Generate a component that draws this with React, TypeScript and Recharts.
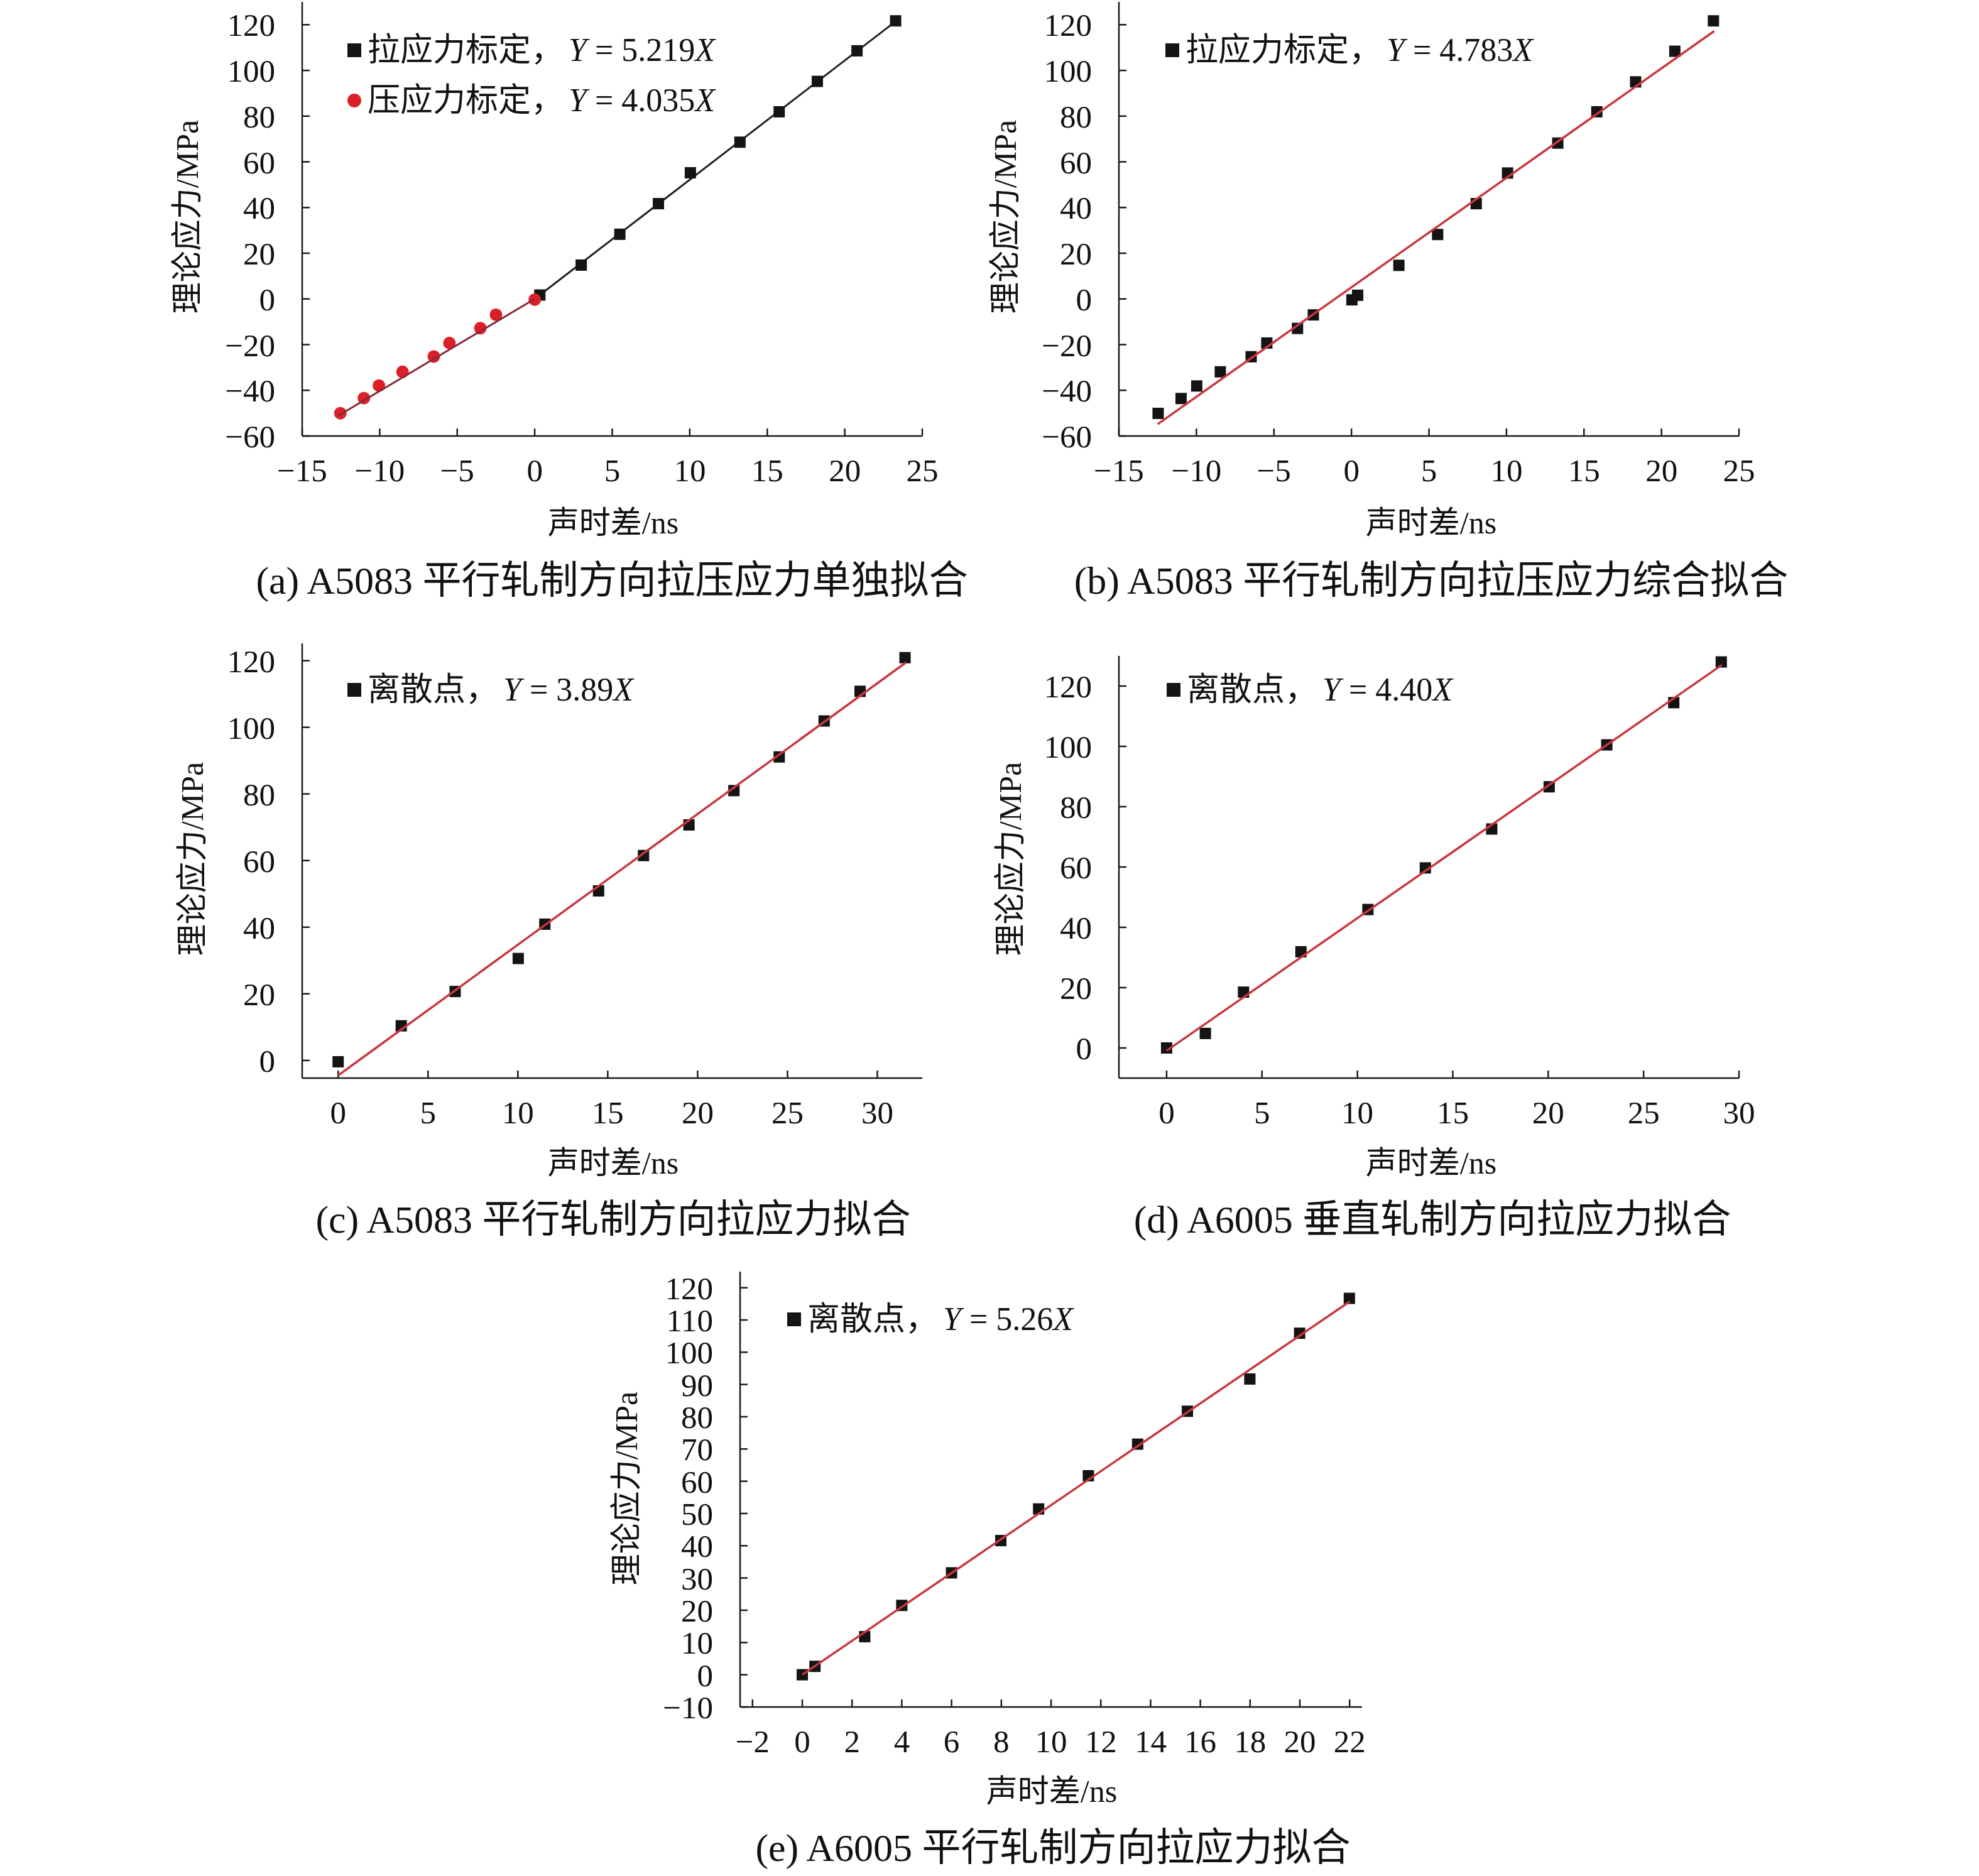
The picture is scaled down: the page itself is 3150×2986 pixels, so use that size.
import React from 'react';
import { ScatterChart, Scatter, XAxis, YAxis } from 'recharts';

// (a) A5083 parallel, separate fits
const tensionA = [
  { x: 0.33, y: 1.7 }, { x: 3.0, y: 14.8 }, { x: 5.49, y: 28.3 }, { x: 7.98, y: 41.7 },
  { x: 10.04, y: 55.2 }, { x: 13.24, y: 68.6 }, { x: 15.77, y: 81.9 }, { x: 18.23, y: 95.2 },
  { x: 20.79, y: 108.6 }, { x: 23.28, y: 121.7 },
];
const compressionA = [
  { x: -12.54, y: -50.0 }, { x: -11.02, y: -43.4 }, { x: -10.05, y: -37.9 }, { x: -8.53, y: -31.9 },
  { x: -6.51, y: -25.2 }, { x: -5.5, y: -19.3 }, { x: -3.51, y: -12.8 }, { x: -2.5, y: -6.9 },
  { x: 0.0, y: -0.3 },
];
const tensionFitA = [{ x: 0, y: 0 }, { x: 23.5, y: 122.6 }];
const compressionFitA = [{ x: -12.7, y: -51.2 }, { x: 0, y: 0 }];

// (b) A5083 parallel, combined fit
const pointsB = [
  { x: -12.47, y: -50.1 }, { x: -10.99, y: -43.6 }, { x: -9.98, y: -38.1 }, { x: -8.46, y: -31.9 },
  { x: -6.47, y: -25.3 }, { x: -5.46, y: -19.3 }, { x: -3.48, y: -12.9 }, { x: -2.46, y: -7.0 },
  { x: 0.03, y: -0.4 }, { x: 0.4, y: 1.6 }, { x: 3.06, y: 14.7 }, { x: 5.56, y: 28.2 },
  { x: 8.05, y: 41.7 }, { x: 10.07, y: 55.1 }, { x: 13.31, y: 68.2 }, { x: 15.83, y: 81.9 },
  { x: 18.33, y: 95.0 }, { x: 20.86, y: 108.4 }, { x: 23.35, y: 121.7 },
];
const fitB = [{ x: -12.5, y: -54.8 }, { x: 23.4, y: 117.2 }];

// (c) A5083 parallel, tension
const pointsC = [
  { x: 0, y: -0.4 }, { x: 3.51, y: 10.4 }, { x: 6.51, y: 20.7 }, { x: 10.02, y: 30.6 },
  { x: 11.5, y: 40.9 }, { x: 14.49, y: 50.9 }, { x: 16.99, y: 61.5 }, { x: 19.52, y: 70.7 },
  { x: 22.02, y: 81.0 }, { x: 24.54, y: 91.1 }, { x: 27.04, y: 101.9 }, { x: 29.04, y: 110.8 },
  { x: 31.54, y: 120.9 },
];
const fitC = [{ x: 0, y: -4.5 }, { x: 31.6, y: 119.5 }];

// (d) A6005 perpendicular, tension
const pointsD = [
  { x: 0, y: 0 }, { x: 2.03, y: 4.8 }, { x: 4.03, y: 18.5 }, { x: 7.04, y: 31.9 },
  { x: 10.55, y: 45.9 }, { x: 13.56, y: 59.7 }, { x: 17.04, y: 72.6 }, { x: 20.05, y: 86.6 },
  { x: 23.07, y: 100.5 }, { x: 26.58, y: 114.5 }, { x: 29.07, y: 128.0 },
];
const fitD = [{ x: 0, y: -0.9 }, { x: 29.1, y: 127.0 }];

// (e) A6005 parallel, tension
const pointsE = [
  { x: 0, y: 0 }, { x: 0.51, y: 2.6 }, { x: 2.51, y: 11.8 }, { x: 4.0, y: 21.5 },
  { x: 6.0, y: 31.6 }, { x: 7.98, y: 41.6 }, { x: 9.5, y: 51.4 }, { x: 11.5, y: 61.7 },
  { x: 13.48, y: 71.5 }, { x: 15.48, y: 81.7 }, { x: 17.99, y: 91.7 }, { x: 19.99, y: 105.9 },
  { x: 21.99, y: 116.7 },
];
const fitE = [{ x: 0, y: 0 }, { x: 22, y: 115.7 }];

const xTicksAB = [-15, -10, -5, 0, 5, 10, 15, 20, 25];
const yTicksAB = [-60, -40, -20, 0, 20, 40, 60, 80, 100, 120];
const xTicksC = [0, 5, 10, 15, 20, 25, 30];
const yTicksCD = [0, 20, 40, 60, 80, 100, 120];
const xTicksD = [0, 5, 10, 15, 20, 25, 30];
const xTicksE = [-2, 0, 2, 4, 6, 8, 10, 12, 14, 16, 18, 20, 22];
const yTicksE = [-10, 0, 10, 20, 30, 40, 50, 60, 70, 80, 90, 100, 110, 120];

const xTitle = '声时差/ns';
const yTitle = '理论应力/MPa';

const FONT = '"Liberation Serif", "Times New Roman", "Noto Sans CJK SC", serif';
const INK = '#141414';
const RED_LINE = '#c9363f';
const DARK_RED_LINE = '#86283a';
const RED_DOT = '#dc2028';

const fmt = (v: number) => String(v).replace('-', '\u2212');

const squareShape = (p: any) => (
  <rect x={p.cx - 9} y={p.cy - 9} width={18} height={18} fill={INK} />
);
const circleShape = (p: any) => <circle cx={p.cx} cy={p.cy} r={10} fill={RED_DOT} />;
const noShape = () => <g />;

type Rect = { left: number; top: number; right: number; bottom: number };

const YW = 200;
const XH = 130;
const MT = 20;
const MR = 40;

function Plot({ rect, xDomain, yDomain, xTicks, yTicks, children }: {
  rect: Rect; xDomain: [number, number]; yDomain: [number, number];
  xTicks: number[]; yTicks: number[]; children: React.ReactNode;
}) {
  const w = rect.right - rect.left;
  const h = rect.bottom - rect.top;
  const axisLine = { stroke: '#1a1a1a', strokeWidth: 2.5 };
  const tickLine = { stroke: '#1a1a1a', strokeWidth: 2.5 };
  const tick = { fontSize: 51, fill: '#111', fontFamily: FONT };
  return (
    <div style={{ position: 'absolute', left: rect.left - YW, top: rect.top - MT }}>
      <ScatterChart width={YW + w + MR} height={MT + h + XH} margin={{ top: MT, right: MR, bottom: 0, left: 0 }}>
        <XAxis type="number" dataKey="x" domain={xDomain} ticks={xTicks} interval={0} allowDataOverflow
          height={XH} tickSize={-12} tickMargin={48} axisLine={axisLine} tickLine={tickLine}
          tick={tick} tickFormatter={fmt} />
        <YAxis type="number" dataKey="y" domain={yDomain} ticks={yTicks} interval={0} allowDataOverflow
          width={YW} tickSize={-12} tickMargin={55} axisLine={axisLine} tickLine={tickLine}
          tick={tick} tickFormatter={fmt} />
        {children}
      </ScatterChart>
    </div>
  );
}

const txt: React.CSSProperties = {
  position: 'absolute', fontFamily: FONT, color: '#111', whiteSpace: 'nowrap', lineHeight: 1,
};

function Centered({ x, y, size, rotate, children }: { x: number; y: number; size: number; rotate?: boolean; children: React.ReactNode }) {
  return (
    <div style={{ ...txt, left: x, top: y, fontSize: size,
      transform: `translate(-50%, -50%)${rotate ? ' rotate(-90deg)' : ''}` }}>
      {children}
    </div>
  );
}

function LegendRow({ x, y, marker, label, eq }: { x: number; y: number; marker: 'square' | 'circle'; label: string; eq: string }) {
  return (
    <div style={{ ...txt, left: x - 11, top: y, fontSize: 52, transform: 'translateY(-50%)', display: 'flex', alignItems: 'center' }}>
      {marker === 'square'
        ? <span style={{ display: 'inline-block', width: 22, height: 22, background: INK, marginRight: 10 }} />
        : <span style={{ display: 'inline-block', width: 22, height: 22, borderRadius: 11, background: RED_DOT, marginRight: 10 }} />}
      <span>{label}，</span>
      <span style={{ marginLeft: 8 }}><i>Y</i> = {eq}<i>X</i></span>
    </div>
  );
}

export default function App() {
  const rA: Rect = { left: 481, top: 3, right: 1468, bottom: 694 };
  const rB: Rect = { left: 1781, top: 3, right: 2768, bottom: 694 };
  const rC: Rect = { left: 481, top: 1024, right: 1468, bottom: 1716 };
  const rD: Rect = { left: 1781, top: 1044, right: 2768, bottom: 1716 };
  const rE: Rect = { left: 1178, top: 2024, right: 2168, bottom: 2717 };
  return (
    <div style={{ position: 'absolute', left: 0, top: 0, width: 3150, height: 2986, background: '#fff', overflow: 'hidden' }}>
      <Plot rect={rA} xDomain={[-15, 25]} yDomain={[-60, 130]} xTicks={xTicksAB} yTicks={yTicksAB}>
        <Scatter data={tensionFitA} line={{ stroke: '#222', strokeWidth: 3 }} shape={noShape} isAnimationActive={false} />
        <Scatter data={tensionA} shape={squareShape} isAnimationActive={false} />
        <Scatter data={compressionA} shape={circleShape} isAnimationActive={false} />
        <Scatter data={compressionFitA} line={{ stroke: DARK_RED_LINE, strokeWidth: 3 }} shape={noShape} isAnimationActive={false} />
      </Plot>
      <Plot rect={rB} xDomain={[-15, 25]} yDomain={[-60, 130]} xTicks={xTicksAB} yTicks={yTicksAB}>
        <Scatter data={pointsB} shape={squareShape} isAnimationActive={false} />
        <Scatter data={fitB} line={{ stroke: RED_LINE, strokeWidth: 3.5 }} shape={noShape} isAnimationActive={false} />
      </Plot>
      <Plot rect={rC} xDomain={[-2, 32.5]} yDomain={[-5.3, 125.2]} xTicks={xTicksC} yTicks={yTicksCD}>
        <Scatter data={pointsC} shape={squareShape} isAnimationActive={false} />
        <Scatter data={fitC} line={{ stroke: RED_LINE, strokeWidth: 3.5 }} shape={noShape} isAnimationActive={false} />
      </Plot>
      <Plot rect={rD} xDomain={[-2.5, 30]} yDomain={[-10, 130]} xTicks={xTicksD} yTicks={yTicksCD}>
        <Scatter data={pointsD} shape={squareShape} isAnimationActive={false} />
        <Scatter data={fitD} line={{ stroke: RED_LINE, strokeWidth: 3.5 }} shape={noShape} isAnimationActive={false} />
      </Plot>
      <Plot rect={rE} xDomain={[-2.5, 22.5]} yDomain={[-10, 125]} xTicks={xTicksE} yTicks={yTicksE}>
        <Scatter data={pointsE} shape={squareShape} isAnimationActive={false} />
        <Scatter data={fitE} line={{ stroke: RED_LINE, strokeWidth: 3.5 }} shape={noShape} isAnimationActive={false} />
      </Plot>

      <LegendRow x={564} y={80} marker="square" label="拉应力标定" eq="5.219" />
      <LegendRow x={564} y={160} marker="circle" label="压应力标定" eq="4.035" />
      <LegendRow x={1866} y={80} marker="square" label="拉应力标定" eq="4.783" />
      <LegendRow x={564} y={1098} marker="square" label="离散点" eq="3.89" />
      <LegendRow x={1868} y={1098} marker="square" label="离散点" eq="4.40" />
      <LegendRow x={1264} y={2100} marker="square" label="离散点" eq="5.26" />

      <Centered x={298} y={345} size={50} rotate>{yTitle}</Centered>
      <Centered x={1600} y={345} size={50} rotate>{yTitle}</Centered>
      <Centered x={306} y={1367} size={50} rotate>{yTitle}</Centered>
      <Centered x={1608} y={1367} size={50} rotate>{yTitle}</Centered>
      <Centered x={997} y={2369} size={50} rotate>{yTitle}</Centered>

      <Centered x={976} y={832} size={50}>{xTitle}</Centered>
      <Centered x={2278} y={832} size={50}>{xTitle}</Centered>
      <Centered x={976} y={1851} size={50}>{xTitle}</Centered>
      <Centered x={2278} y={1851} size={50}>{xTitle}</Centered>
      <Centered x={1674} y={2851} size={50}>{xTitle}</Centered>

      <Centered x={974} y={924} size={62}>(a) A5083 平行轧制方向拉压应力单独拟合</Centered>
      <Centered x={2278} y={924} size={62}>(b) A5083 平行轧制方向拉压应力综合拟合</Centered>
      <Centered x={976} y={1941} size={62}>(c) A5083 平行轧制方向拉应力拟合</Centered>
      <Centered x={2280} y={1941} size={62}>(d) A6005 垂直轧制方向拉应力拟合</Centered>
      <Centered x={1676} y={2941} size={62}>(e) A6005 平行轧制方向拉应力拟合</Centered>
    </div>
  );
}
